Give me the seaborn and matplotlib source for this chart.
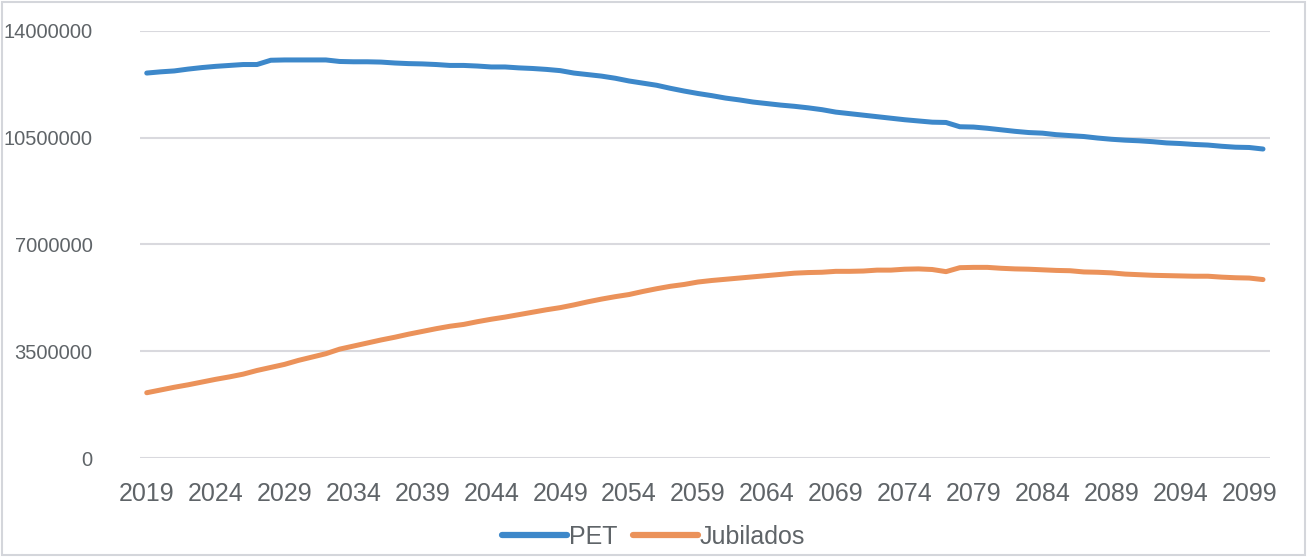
import matplotlib
matplotlib.use("Agg")
import matplotlib.pyplot as plt
from matplotlib.patches import Rectangle
from matplotlib.ticker import FixedLocator, FuncFormatter
import numpy as np
import pandas as pd
import seaborn as sns

# Years of the projection
years = list(range(2019, 2101))

# Working-age population (PET), in millions
pet_millions = [
    12.62, 12.66, 12.69, 12.75, 12.80, 12.84, 12.87, 12.90, 12.90, 13.04,
    13.05, 13.05, 13.05, 13.05, 13.00, 12.99, 12.99, 12.98, 12.95, 12.93,
    12.92, 12.90, 12.87, 12.87, 12.85, 12.82, 12.82, 12.79, 12.77, 12.74,
    12.70, 12.62, 12.57, 12.52, 12.45, 12.36, 12.29, 12.22, 12.12, 12.03,
    11.95, 11.88, 11.80, 11.74, 11.67, 11.62, 11.57, 11.53, 11.48, 11.42,
    11.34, 11.29, 11.24, 11.19, 11.14, 11.09, 11.05, 11.01, 11.00, 10.86,
    10.85, 10.81, 10.76, 10.71, 10.67, 10.65, 10.60, 10.57, 10.54, 10.49,
    10.45, 10.42, 10.40, 10.37, 10.33, 10.31, 10.28, 10.26, 10.22, 10.19,
    10.18, 10.13,
]

# Retirees (Jubilados), in millions
jubilados_millions = [
    2.14, 2.23, 2.32, 2.40, 2.49, 2.58, 2.66, 2.75, 2.87, 2.97,
    3.07, 3.20, 3.31, 3.42, 3.57, 3.67, 3.77, 3.87, 3.96, 4.06,
    4.15, 4.24, 4.32, 4.38, 4.47, 4.55, 4.62, 4.70, 4.78, 4.86,
    4.93, 5.02, 5.12, 5.21, 5.29, 5.36, 5.46, 5.55, 5.63, 5.69,
    5.77, 5.82, 5.86, 5.90, 5.94, 5.98, 6.02, 6.06, 6.08, 6.09,
    6.12, 6.12, 6.13, 6.16, 6.16, 6.19, 6.20, 6.18, 6.11, 6.24,
    6.25, 6.25, 6.22, 6.20, 6.19, 6.17, 6.15, 6.14, 6.10, 6.09,
    6.07, 6.03, 6.01, 5.99, 5.98, 5.97, 5.96, 5.96, 5.93, 5.91,
    5.90, 5.85,
]

series_names = ["PET", "Jubilados"]
y_ticks = [0, 3500000, 7000000, 10500000, 14000000]
x_ticks = list(range(2019, 2100, 5))

df = pd.concat([
    pd.DataFrame({"Año": years, "Personas": np.array(pet_millions) * 1e6, "Serie": series_names[0]}),
    pd.DataFrame({"Año": years, "Personas": np.array(jubilados_millions) * 1e6, "Serie": series_names[1]}),
])

sns.set_theme(style="white")
plt.rcParams["font.family"] = ["Liberation Sans", "DejaVu Sans"]

fig = plt.figure(figsize=(13.07, 5.57), dpi=100)
ax = fig.add_axes([0.107, 0.1777, 0.8646, 0.7667])

palette = {"PET": "#3D88CA", "Jubilados": "#EB925A"}
sns.lineplot(data=df, x="Año", y="Personas", hue="Serie", palette=palette,
             linewidth=3.6, ax=ax, solid_capstyle="round", solid_joinstyle="round")

ax.set_xlim(2018.5, 2100.5)
ax.set_ylim(0, 14000000)
ax.yaxis.set_major_locator(FixedLocator(y_ticks))
ax.yaxis.set_major_formatter(FuncFormatter(lambda v, p: f"{int(v)}"))
ax.xaxis.set_major_locator(FixedLocator(x_ticks))
ax.xaxis.set_major_formatter(FuncFormatter(lambda v, p: f"{int(round(v))}"))

ax.grid(axis="y", color="#D9D9DE", linewidth=1.5)
ax.grid(axis="x", visible=False)
ax.set_axisbelow(True)
for s in ax.spines.values():
    s.set_visible(False)

ax.tick_params(axis="y", length=0, pad=34, labelsize=14.5, labelcolor="#5F6468")
ax.tick_params(axis="x", length=0, pad=17, labelsize=18, labelcolor="#5F6468")
ax.set_xlabel("")
ax.set_ylabel("")

ax.legend_.remove()
handles, labels = ax.get_legend_handles_labels()
leg = fig.legend(handles, labels, loc="center", bbox_to_anchor=(0.5, 0.036),
                 ncol=2, frameon=False, fontsize=18, handlelength=2.6,
                 handletextpad=0.1, columnspacing=0.6)
for t in leg.get_texts():
    t.set_color("#5F6468")
for h in leg.get_lines():
    h.set_linewidth(4.5)

fig.patches.append(Rectangle((0.0015, 0.003), 0.997, 0.994, transform=fig.transFigure,
                             fill=False, edgecolor="#D4D6DB", linewidth=1.5))

fig.savefig("out.png", dpi=100)
